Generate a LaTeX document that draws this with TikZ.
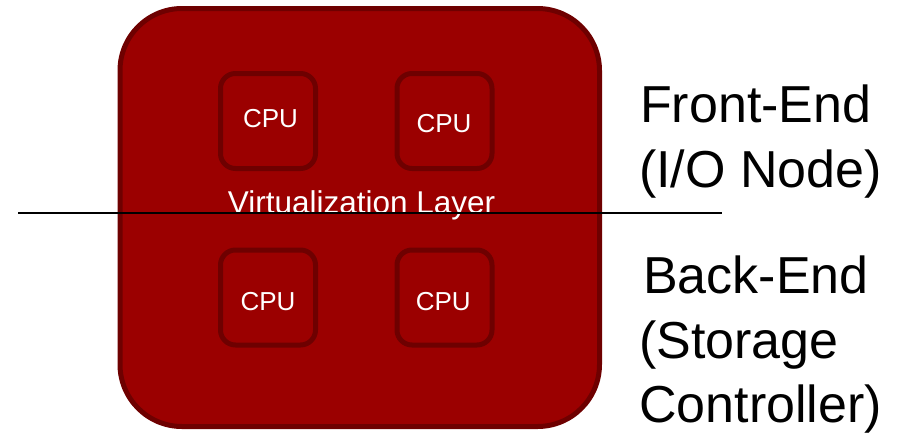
\documentclass[tikz,border=0pt]{standalone}
\usepackage{fontspec}
\setmainfont{Liberation Sans}
\definecolor{boxfill}{RGB}{155,0,0}
\definecolor{boxedge}{RGB}{110,0,0}
\tikzset{
  cpubox/.style={draw=boxedge, fill=boxfill, line width=5pt, rounded corners=15pt,
    minimum width=95pt, minimum height=95pt, inner sep=0pt},
  cputext/.style={text=white, inner sep=0pt, font=\fontsize{26}{30}\selectfont},
  sidetext/.style={anchor=base west, inner sep=0pt, font=\fontsize{52}{60}\selectfont}
}
\begin{document}
\begin{tikzpicture}[x=1pt,y=-1pt]
\useasboundingbox (0,0) rectangle (903,437);
% outer box
\draw[draw=boxedge, fill=boxfill, line width=5pt, rounded corners=62pt]
  (120,8.5) rectangle (599.5,426.5);
% CPUs
\node[cpubox] (c1) at (268,121) {};
\node[cpubox] (c2) at (444.5,121) {};
\node[cpubox] (c3) at (268,297.5) {};
\node[cpubox] (c4) at (444.5,297.5) {};
\node[cputext] (t1) at (270.5,118.5) {CPU};
\node[cputext] (t2) at (444,123.5) {CPU};
\node[cputext] (t3) at (268,301.5) {CPU};
\node[cputext] (t4) at (443.3,301.7) {CPU};
% layer text
\node[anchor=base, text=white, inner sep=0pt, font=\fontsize{31.5}{36}\selectfont] (vl) at (361.5,213) {Virtualization Layer};
% line
\coordinate (la) at (18,213);
\coordinate (lb) at (722,213);
\draw[line width=1.5pt, black] (la) -- (lb);
% side texts
\node[sidetext] (f1) at (640,122) {Front-End};
\node[sidetext] (f2) at (639,187) {(I/O Node)};
\node[sidetext] (b1) at (643,293) {Back-End};
\node[sidetext] (b2) at (639,358) {(Storage};
\node[sidetext] (b3) at (639,422) {Controller)};
\end{tikzpicture}
\end{document}
